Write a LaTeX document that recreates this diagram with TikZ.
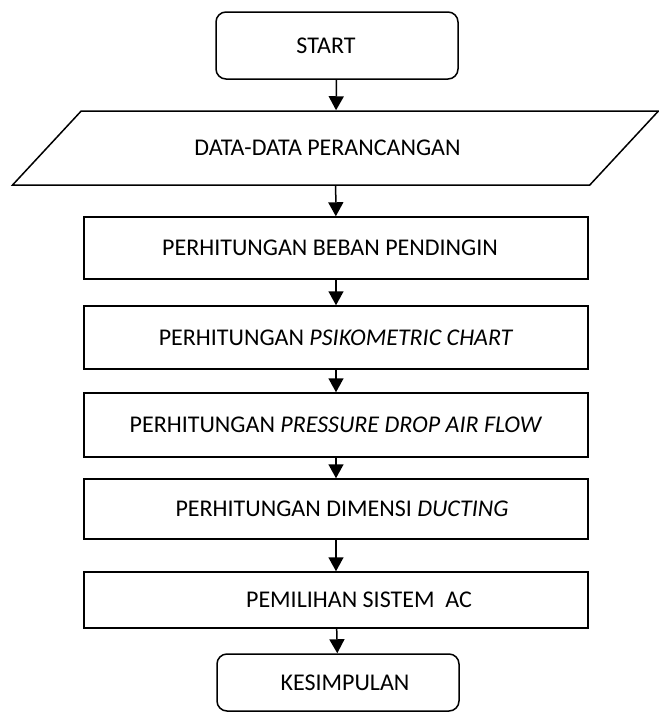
\documentclass[tikz,border=0pt]{standalone}
\usepackage{fontspec}
\setmainfont{Carlito}
\usetikzlibrary{shapes.geometric, arrows.meta}

\begin{document}
\begin{tikzpicture}[x = 1pt, y = -1pt, > = {Triangle[width = 15pt, length = 14pt]},
	line width = 1.5pt,
	every node/.style = {font = \fontsize{24}{28}\selectfont, inner sep = 0pt},
	terminal/.style = {draw, rounded corners = 10pt, minimum width = 242pt},
	process/.style = {draw, minimum width = 504pt},
	inout/.style = {draw, trapezium, trapezium left angle = 25, trapezium right angle = 155,
		trapezium stretches, minimum width = 647pt, minimum height = 74pt}]

	\useasboundingbox (0, 0) rectangle (659, 713);

	% Start and input
	
	\node [terminal, minimum height = 67pt] (start) at (337, 45.5) {\hspace*{-22pt}START};
	\node [inout] (data) at (335.5, 148) {\hspace*{-16pt}DATA-DATA PERANCANGAN};
	
	% Calculation steps
	
	\node [process, minimum height = 62pt] (beban) at (336, 248) {\hspace*{-12pt}PERHITUNGAN BEBAN PENDINGIN};
	\node [process, minimum height = 63pt] (psiko) at (336, 337.5) {PERHITUNGAN \textit{PSIKOMETRIC CHART}};
	\node [process, minimum height = 64pt] (pressure) at (336, 425) {PERHITUNGAN \textit{PRESSURE DROP AIR FLOW}};
	\node [process, minimum height = 60pt] (ducting) at (336, 509) {\hspace*{12pt}PERHITUNGAN DIMENSI \textit{DUCTING}};
	\node [process, minimum height = 56pt] (sistem) at (336, 600) {\hspace*{46pt}PEMILIHAN SISTEM~~AC};
	
	% End
	
	\node [terminal, minimum height = 57pt] (simpul) at (338, 682.5) {\hspace*{14pt}KESIMPULAN};
	
	% Arrows
	
	\begin{scope}[->]
	
		\draw (start) -- (data);
		\draw (data) -- (beban);
		\draw (beban) -- (psiko);
		\draw (psiko) -- (pressure);
		\draw (pressure) -- (ducting);
		\draw (ducting) -- (sistem);
		\draw (sistem) -- (simpul);
	
	\end{scope}

\end{tikzpicture}
\end{document}
